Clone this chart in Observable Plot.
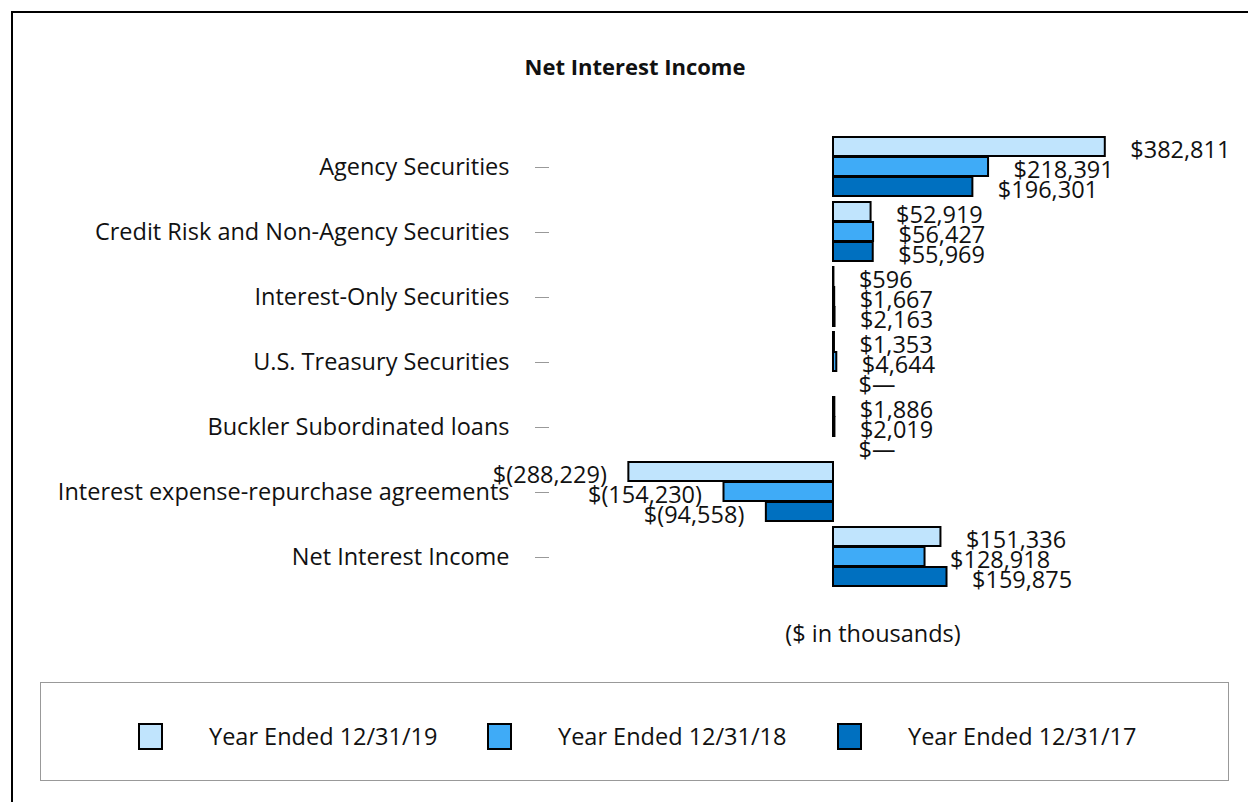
<!DOCTYPE html>
<html>
<head>
<meta charset="utf-8">
<script src="https://cdn.jsdelivr.net/npm/d3@7"></script>
<script src="https://cdn.jsdelivr.net/npm/@observablehq/plot@0.6"></script>
<style>
  html, body { margin: 0; padding: 0; background: #fff; }
  body { width: 1248px; height: 802px; position: relative; overflow: hidden; font-family: "Open Sans", sans-serif; color: #111; }
  #frame { position: absolute; left: 11px; top: 11px; width: 1300px; height: 900px; border-left: 2px solid #000; border-top: 2px solid #000; }
  #title { position: absolute; left: 0; width: 1270px; top: 51px; text-align: center; font-weight: bold; font-size: 22px; }
  #chart { position: absolute; left: 0; top: 0; }
  #unit { position: absolute; left: 773px; width: 200px; top: 617px; text-align: center; font-size: 23.5px; }
  #legend { position: absolute; left: 40px; top: 682px; width: 1189px; height: 99px; border: 1px solid #999; box-sizing: border-box; }
  .item { position: absolute; top: 37px; display: flex; align-items: center; font-size: 23.5px; }
  .sw { width: 21px; height: 23px; border: 2px solid #000; margin-right: 46px; }
  g[aria-label^="fy-axis"] path, g[aria-label^="fy-axis"] line { stroke: #999; }
</style>
</head>
<body>
<div id="frame"></div>
<div id="title">Net Interest Income</div>
<div id="chart"></div>
<div id="unit">($ in thousands)</div>
<div id="legend"></div>
<script>
const categories = [
  "Agency Securities",
  "Credit Risk and Non-Agency Securities",
  "Interest-Only Securities",
  "U.S. Treasury Securities",
  "Buckler Subordinated loans",
  "Interest expense-repurchase agreements",
  "Net Interest Income"
];
const seriesNames = ["Year Ended 12/31/19", "Year Ended 12/31/18", "Year Ended 12/31/17"];
const values2019 = [382811, 52919, 596, 1353, 1886, -288229, 151336];
const values2018 = [218391, 56427, 1667, 4644, 2019, -154230, 128918];
const values2017 = [196301, 55969, 2163, 0, 0, -94558, 159875];
const seriesColors = ["#C0E4FD", "#3FABF7", "#0070C0"];

const seriesValues = [values2019, values2018, values2017];
const rows = [];
categories.forEach((c, i) => {
  seriesNames.forEach((s, j) => rows.push({cat: c, series: s, value: seriesValues[j][i]}));
});

const fmt = d3.format(",");
function money(v) {
  if (v === 0) return "$\u2014";
  if (v < 0) return "$(" + fmt(-v) + ")";
  return "$" + fmt(v);
}

const chart = Plot.plot({
  width: 1248,
  height: 620,
  marginLeft: 549,
  marginRight: 60,
  marginTop: 133,
  marginBottom: 30,
  style: {fontSize: "23.5px", fontFamily: "Open Sans, sans-serif", color: "#111", background: "transparent"},
  facet: {data: rows, y: "cat"},
  fy: {domain: categories, label: null, axis: "left", tickSize: 14, tickPadding: 26, padding: 0.05},
  y: {domain: seriesNames, axis: null, padding: 0.04},
  x: {domain: [-400000, 500000], axis: null},
  color: {domain: seriesNames, range: seriesColors},
  marks: [
    Plot.barX(rows, {x: "value", y: "series", fill: "series", stroke: "#000", strokeWidth: 2}),
    Plot.text(rows, {filter: d => d.value >= 0, x: "value", y: "series", text: d => money(d.value), textAnchor: "start", dx: 25, dy: 3, fill: "#111"}),
    Plot.text(rows, {filter: d => d.value < 0, x: "value", y: "series", text: d => money(d.value), textAnchor: "end", dx: -22, dy: 3, fill: "#111"})
  ]
});
document.getElementById("chart").appendChild(chart);

const legend = document.getElementById("legend");
const lefts = [97, 446, 796];
seriesNames.forEach((s, j) => {
  const it = document.createElement("div");
  it.className = "item";
  it.style.left = lefts[j] + "px";
  const sw = document.createElement("div");
  sw.className = "sw";
  sw.style.background = seriesColors[j];
  it.appendChild(sw);
  const t = document.createElement("span");
  t.textContent = s;
  it.appendChild(t);
  legend.appendChild(it);
});
</script>
</body>
</html>
